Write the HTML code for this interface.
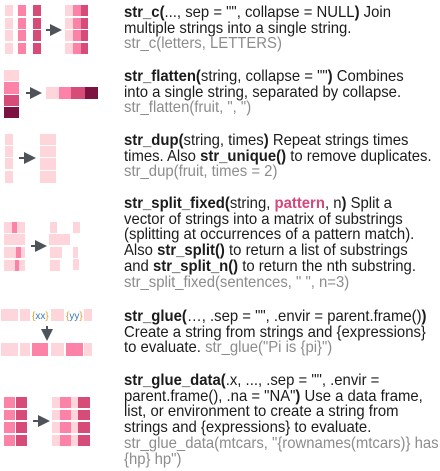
<!DOCTYPE html>
<html><head><meta charset="utf-8">
<style>
body{margin:0;width:440px;height:471px;background:#fff;overflow:hidden;position:relative;font-family:"Liberation Sans",sans-serif}
.c{position:absolute}
.txt{position:absolute;left:124px;font-size:16px;line-height:15.7px;color:#1b1b1b;white-space:nowrap;transform:scaleX(0.93);transform-origin:0 0}
.g{color:#8c8c8c}
b{font-weight:bold}
.p{color:#d6477c;font-weight:bold}
</style></head><body>
<svg class="c" style="left:0;top:0" width="120" height="471">
<defs><marker id="ah" markerWidth="6" markerHeight="6" refX="3" refY="3" orient="auto"><path d="M0,0 L6,3 L0,6 z" fill="#4d5359"/></marker></defs>
<g>
<rect x="5" y="5" width="8" height="11" fill="#fdd5da"/><rect x="5" y="18" width="8" height="11" fill="#fdd5da"/><rect x="5" y="30" width="8" height="11" fill="#fdd5da"/><rect x="5" y="43" width="8" height="11" fill="#fdd5da"/>
<rect x="18" y="5" width="8" height="11" fill="#fc82a8"/><rect x="18" y="18" width="8" height="11" fill="#fc82a8"/><rect x="18" y="30" width="8" height="11" fill="#fc82a8"/><rect x="18" y="43" width="8" height="11" fill="#fc82a8"/>
<rect x="33" y="5" width="8" height="11" fill="#d64b78"/><rect x="33" y="18" width="8" height="11" fill="#d64b78"/><rect x="33" y="30" width="8" height="11" fill="#d64b78"/><rect x="33" y="43" width="8" height="11" fill="#d64b78"/>
<line x1="46" y1="30" x2="56" y2="30" stroke="#4d5359" stroke-width="2" marker-end="url(#ah)"/>
<rect x="65" y="5" width="8" height="11" fill="#fdd5da"/><rect x="65" y="18" width="8" height="11" fill="#fdd5da"/><rect x="65" y="30" width="8" height="11" fill="#fdd5da"/><rect x="65" y="43" width="8" height="11" fill="#fdd5da"/>
<rect x="73" y="5" width="8" height="11" fill="#fc82a8"/><rect x="73" y="18" width="8" height="11" fill="#fc82a8"/><rect x="73" y="30" width="8" height="11" fill="#fc82a8"/><rect x="73" y="43" width="8" height="11" fill="#fc82a8"/>
<rect x="81" y="5" width="7" height="11" fill="#d64b78"/><rect x="81" y="18" width="7" height="11" fill="#d64b78"/><rect x="81" y="30" width="7" height="11" fill="#d64b78"/><rect x="81" y="43" width="7" height="11" fill="#d64b78"/>
</g>
<g>
<rect x="4" y="70" width="15" height="11" fill="#fdd5da"/><rect x="4" y="82" width="15" height="12" fill="#fc82a8"/><rect x="4" y="95" width="15" height="11" fill="#d64b78"/><rect x="4" y="107" width="15" height="11" fill="#7d1142"/>
<line x1="26" y1="93" x2="36" y2="93" stroke="#4d5359" stroke-width="2" marker-end="url(#ah)"/>
<rect x="46" y="87" width="13" height="12" fill="#fdd5da"/><rect x="59" y="87" width="12" height="12" fill="#fc82a8"/><rect x="71" y="87" width="14" height="12" fill="#d64b78"/><rect x="85" y="87" width="13" height="12" fill="#7d1142"/>
</g>
<g fill="#fdd5da">
<rect x="5" y="134" width="8" height="11"/><rect x="5" y="146" width="8" height="11"/><rect x="5" y="158" width="8" height="11"/><rect x="5" y="171" width="8" height="12"/>
<line x1="19" y1="158" x2="30" y2="158" stroke="#4d5359" stroke-width="2" marker-end="url(#ah)"/>
<rect x="40" y="134" width="16" height="11"/><rect x="40" y="146" width="16" height="11"/><rect x="40" y="158" width="16" height="12"/><rect x="40" y="171" width="16" height="12"/>
</g>
<g>
<rect x="4" y="222" width="21" height="11" fill="#fdd5da"/><rect x="12" y="222" width="5" height="11" fill="#fc82a8"/>
<rect x="4" y="234" width="21" height="11" fill="#fdd5da"/>
<rect x="4" y="247" width="21" height="11" fill="#fdd5da"/><rect x="16" y="247" width="5" height="11" fill="#fc82a8"/>
<rect x="4" y="260" width="21" height="11" fill="#fdd5da"/><rect x="15" y="260" width="4" height="11" fill="#fc82a8"/>
<line x1="31" y1="246" x2="41" y2="246" stroke="#4d5359" stroke-width="2" marker-end="url(#ah)"/>
<rect x="50" y="222" width="7" height="11" fill="#fdd5da"/><rect x="73" y="222" width="7" height="11" fill="#fdd5da"/>
<rect x="49" y="234" width="21" height="11" fill="#fdd5da"/>
<rect x="50" y="247" width="12" height="11" fill="#fdd5da"/><rect x="73" y="247" width="5" height="11" fill="#fdd5da"/>
<rect x="50" y="260" width="10" height="11" fill="#fdd5da"/><rect x="73" y="259" width="6" height="11" fill="#fdd5da"/>
</g>
<g>
<rect x="1" y="309" width="17" height="12" fill="#fdd5da"/><rect x="20" y="309" width="10" height="12" fill="#fdd5da"/><rect x="51" y="309" width="13" height="12" fill="#fdd5da"/><rect x="84" y="309" width="8" height="12" fill="#fdd5da"/>
<text x="32" y="319" font-size="10" font-family="Liberation Sans,sans-serif"><tspan fill="#e89a2a">{</tspan><tspan fill="#3a78c2">xx</tspan><tspan fill="#e89a2a">}</tspan></text>
<text x="66" y="319" font-size="10" font-family="Liberation Sans,sans-serif"><tspan fill="#e89a2a">{</tspan><tspan fill="#3a78c2">yy</tspan><tspan fill="#e89a2a">}</tspan></text>
<line x1="47" y1="326" x2="47" y2="335" stroke="#4d5359" stroke-width="2" marker-end="url(#ah)"/>
<rect x="1" y="343" width="17" height="13" fill="#fdd5da"/><rect x="20" y="343" width="10" height="13" fill="#fdd5da"/><rect x="32" y="343" width="16" height="13" fill="#fc82a8"/><rect x="51" y="343" width="13" height="13" fill="#fdd5da"/><rect x="66" y="343" width="17" height="13" fill="#fc82a8"/><rect x="84" y="343" width="8" height="13" fill="#fdd5da"/>
</g>
<g>
<rect x="4" y="397" width="11" height="11" fill="#fc82a8"/><rect x="16" y="397" width="11" height="11" fill="#d64b78"/>
<rect x="4" y="410" width="11" height="10" fill="#fc82a8"/><rect x="16" y="410" width="11" height="10" fill="#d64b78"/>
<rect x="4" y="422" width="11" height="11" fill="#fc82a8"/><rect x="16" y="422" width="11" height="11" fill="#d64b78"/>
<rect x="4" y="435" width="11" height="11" fill="#fc82a8"/><rect x="16" y="435" width="11" height="11" fill="#d64b78"/>
<line x1="33" y1="421" x2="44" y2="421" stroke="#4d5359" stroke-width="2" marker-end="url(#ah)"/>
<rect x="52" y="397" width="8" height="11" fill="#fdd5da"/><rect x="60" y="397" width="11" height="11" fill="#fc82a8"/><rect x="71" y="397" width="7" height="11" fill="#fdd5da"/><rect x="78" y="397" width="12" height="11" fill="#d64b78"/>
<rect x="52" y="410" width="8" height="10" fill="#fdd5da"/><rect x="60" y="410" width="11" height="10" fill="#fc82a8"/><rect x="71" y="410" width="7" height="10" fill="#fdd5da"/><rect x="78" y="410" width="12" height="10" fill="#d64b78"/>
<rect x="52" y="422" width="8" height="11" fill="#fdd5da"/><rect x="60" y="422" width="11" height="11" fill="#fc82a8"/><rect x="71" y="422" width="7" height="11" fill="#fdd5da"/><rect x="78" y="422" width="12" height="11" fill="#d64b78"/>
<rect x="52" y="435" width="8" height="11" fill="#fdd5da"/><rect x="60" y="435" width="11" height="11" fill="#fc82a8"/><rect x="71" y="435" width="7" height="11" fill="#fdd5da"/><rect x="78" y="435" width="12" height="11" fill="#d64b78"/>
</g>
</svg>

<div class="txt" style="top:5px"><b>str_c(</b>..., sep = "", collapse = NULL<b>)</b> Join<br>multiple strings into a single string.<br><span class="g">str_c(letters, LETTERS)</span></div>
<div class="txt" style="top:69px"><b>str_flatten(</b>string, collapse = ""<b>)</b> Combines<br>into a single string, separated by collapse.<br><span class="g">str_flatten(fruit, ", ")</span></div>
<div class="txt" style="top:133px"><b>str_dup(</b>string, times<b>)</b> Repeat strings times<br>times. Also <b>str_unique()</b> to remove duplicates.<br><span class="g">str_dup(fruit, times = 2)</span></div>
<div class="txt" style="top:196px"><b>str_split_fixed(</b>string, <span class="p">pattern</span>, n<b>)</b> Split a<br>vector of strings into a matrix of substrings<br>(splitting at occurrences of a pattern match).<br>Also <b>str_split()</b> to return a list of substrings<br>and <b>str_split_n()</b> to return the nth substring.<br><span class="g">str_split_fixed(sentences, " ", n=3)</span></div>
<div class="txt" style="top:309px"><b>str_glue(</b>…, .sep = "", .envir = parent.frame()<b>)</b><br>Create a string from strings and {expressions}<br>to evaluate. <span class="g">str_glue("Pi is {pi}")</span></div>
<div class="txt" style="top:373px"><b>str_glue_data(</b>.x, ..., .sep = "", .envir =<br>parent.frame(), .na = "NA"<b>)</b> Use a data frame,<br>list, or environment to create a string from<br>strings and {expressions} to evaluate.<br><span class="g">str_glue_data(mtcars, "{rownames(mtcars)} has<br>{hp} hp")</span></div>
</body></html>
